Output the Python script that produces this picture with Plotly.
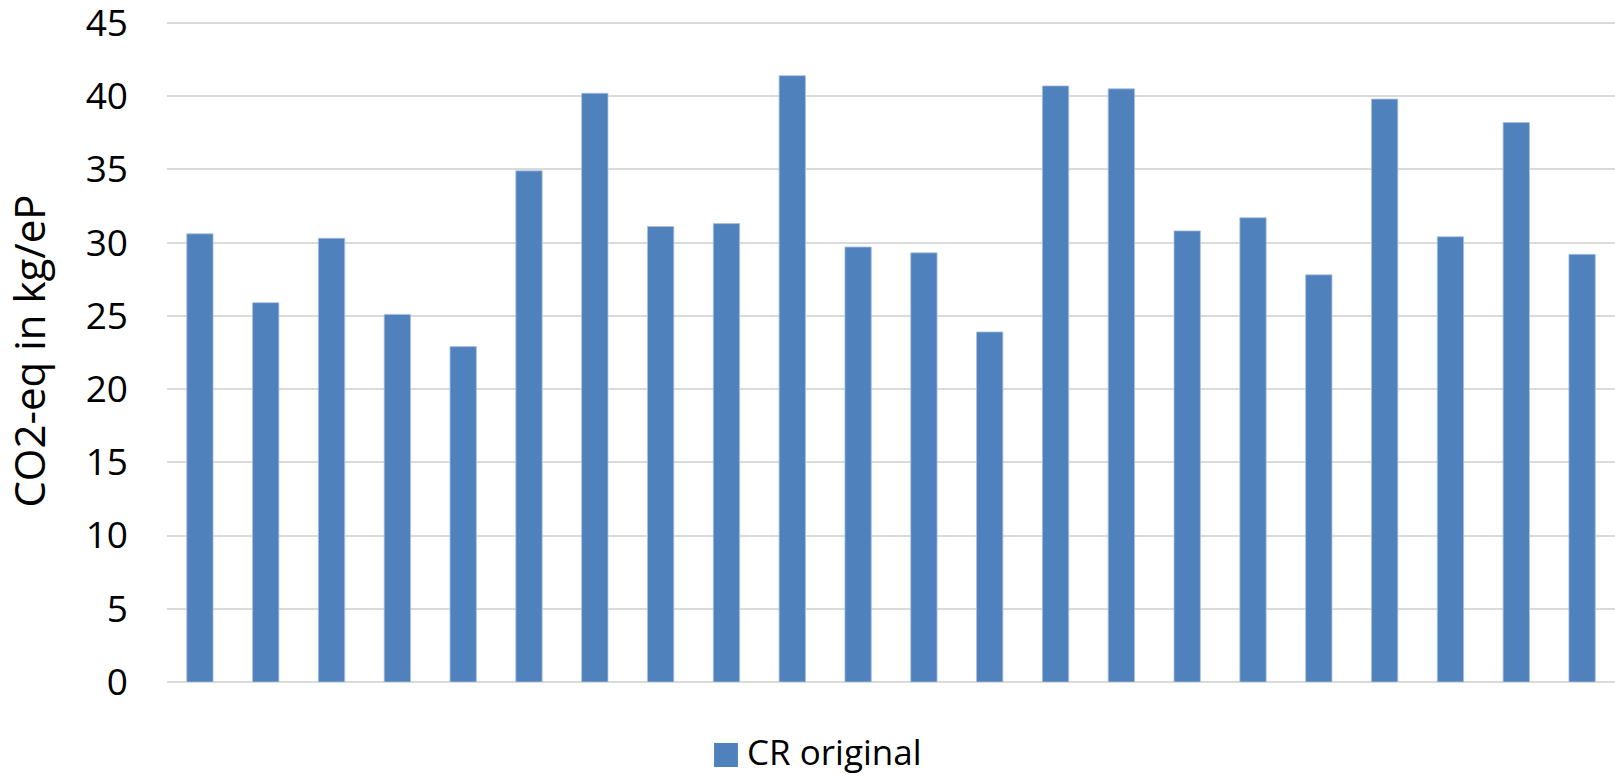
import plotly.graph_objects as go

# Emissions per unit for each case, CR original scenario
cases = [str(i) for i in range(1, 23)]
co2_eq = [30.6, 25.9, 30.3, 25.1, 22.9, 34.9, 40.2, 31.1, 31.3, 41.4, 29.7,
          29.3, 23.9, 40.7, 40.5, 30.8, 31.7, 27.8, 39.8, 30.4, 38.2, 29.2]
y_ticks = [0, 5, 10, 15, 20, 25, 30, 35, 40, 45]
series_name = "CR original"
y_title = "CO2-eq in kg/eP"

BAR_COLOR = "#4F81BD"
GRID_COLOR = "#DADADA"
FONT = "Open Sans"

fig = go.Figure()
fig.add_trace(go.Bar(
    x=cases,
    y=co2_eq,
    name=series_name,
    marker=dict(color=BAR_COLOR, line=dict(color="#A9C0DE", width=0.8)),
    showlegend=False,
))

fig.update_layout(
    width=1615,
    height=775,
    margin=dict(l=167, r=0, t=20, b=93),
    paper_bgcolor="white",
    plot_bgcolor="white",
    bargap=0.6,
    font=dict(family=FONT, color="black"),
    xaxis=dict(
        showticklabels=False,
        showgrid=False,
        zeroline=False,
        ticks="",
        automargin=False,
    ),
    yaxis=dict(
        range=[0, 45.2],
        tickvals=y_ticks,
        ticktext=[str(v) for v in y_ticks],
        tickfont=dict(family=FONT, size=37, color="black"),
        ticklabeloverflow="allow",
        automargin=False,
        showgrid=True,
        gridcolor=GRID_COLOR,
        gridwidth=1.8,
        zeroline=True,
        zerolinecolor=GRID_COLOR,
        zerolinewidth=1.8,
        ticks="",
        ticklabelstandoff=38,
        title=dict(text=y_title, font=dict(family=FONT, size=42, color="black"),
                   standoff=26),
    ),
)

# Legend entry drawn below the plot area
fig.add_shape(
    type="rect", xref="paper", yref="paper",
    x0=0.3778, x1=0.3943, y0=-0.0921, y1=-0.1284,
    fillcolor=BAR_COLOR, line=dict(width=0),
)
fig.add_annotation(
    text=series_name, xref="paper", yref="paper",
    x=0.400, y=-0.1057, xanchor="left", yanchor="middle",
    showarrow=False, borderpad=0,
    font=dict(family=FONT, size=35, color="black"),
)

fig.write_html("out.html")
